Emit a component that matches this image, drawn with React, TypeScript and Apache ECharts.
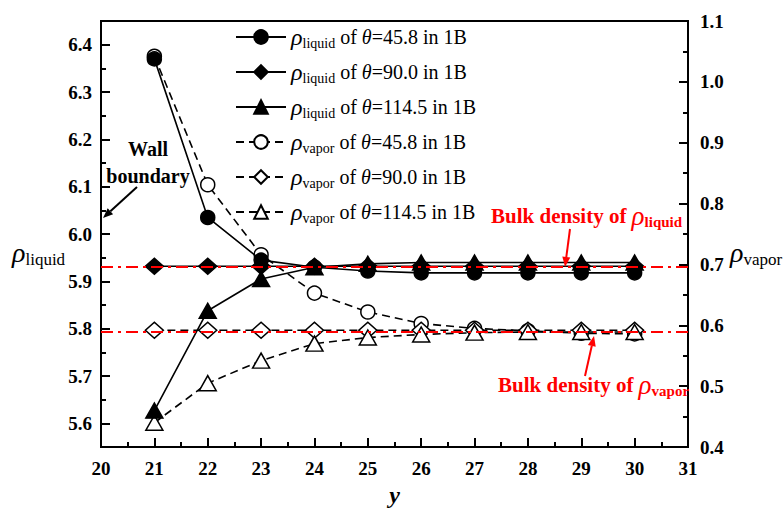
import React, { useEffect, useRef } from "react";
import * as echarts from "echarts";

const yPositions = [21, 22, 23, 24, 25, 26, 27, 28, 29, 30];
const thetaLabels = ["45.8", "90.0", "114.5"];

const liquid458 = [6.37, 6.035, 5.945, 5.93, 5.922, 5.918, 5.918, 5.918, 5.918, 5.918];
const liquid900 = [5.932, 5.932, 5.932, 5.932, 5.932, 5.932, 5.932, 5.932, 5.932, 5.932];
const liquid1145 = [5.627, 5.838, 5.905, 5.93, 5.937, 5.94, 5.94, 5.94, 5.94, 5.94];

const vapor458 = [1.042, 0.831, 0.716, 0.653, 0.622, 0.603, 0.595, 0.591, 0.587, 0.586];
const vapor900 = [0.592, 0.592, 0.592, 0.592, 0.592, 0.592, 0.592, 0.592, 0.592, 0.592];
const vapor1145 = [0.44, 0.505, 0.542, 0.57, 0.58, 0.585, 0.588, 0.589, 0.589, 0.589];

const bulkLiquid = 5.93;
const bulkVapor = 0.589;

const leftMajorTicks = [5.6, 5.7, 5.8, 5.9, 6.0, 6.1, 6.2, 6.3, 6.4];
const leftMinorTicks = [5.65, 5.75, 5.85, 5.95, 6.05, 6.15, 6.25, 6.35];

const FONT = "Liberation Serif";

function arrow(x1: number, y1: number, x2: number, y2: number, color: string) {
  const dx = x2 - x1;
  const dy = y2 - y1;
  const len = Math.sqrt(dx * dx + dy * dy);
  const ux = dx / len;
  const uy = dy / len;
  const nx = -uy;
  const ny = ux;
  const hl = 10;
  const hw = 4;
  const bx = x2 - ux * hl;
  const by = y2 - uy * hl;
  return [
    {
      type: "polyline",
      z: 100,
      shape: { points: [[x1, y1], [bx, by]] },
      style: { stroke: color, lineWidth: 2, fill: null },
    },
    {
      type: "polygon",
      z: 100,
      shape: {
        points: [
          [x2, y2],
          [bx + nx * hw, by + ny * hw],
          [bx - nx * hw, by - ny * hw],
        ],
      },
      style: { fill: color },
    },
  ];
}

const legendRich = {
  r: { fontFamily: FONT, fontStyle: "italic", fontSize: 24, color: "#000" },
  s: { fontFamily: FONT, fontSize: 14, color: "#000", padding: [12, 0, 0, 0] },
  t: { fontFamily: FONT, fontSize: 20, color: "#000" },
  th: { fontFamily: FONT, fontStyle: "italic", fontSize: 20, color: "#000" },
};

const bulkRich = {
  b: { fontFamily: FONT, fontWeight: "bold", fontSize: 21, fill: "#ff0000" },
  r: { fontFamily: FONT, fontStyle: "italic", fontSize: 27, fill: "#ff0000" },
  s: { fontFamily: FONT, fontWeight: "bold", fontSize: 15, fill: "#ff0000", padding: [12, 0, 0, 0] },
};

export default function App() {
  const ref = useRef<HTMLDivElement>(null);

  useEffect(() => {
    document.body.style.margin = "0";
    if (!ref.current) return;
    const chart = echarts.init(ref.current, null, { renderer: "svg" });

    const mk = (arr: number[]) => yPositions.map((x, i) => [x, arr[i]]);
    const names = [
      ...thetaLabels.map((t) => `ρliquid of θ=${t} in 1B`),
      ...thetaLabels.map((t) => `ρvapor of θ=${t} in 1B`),
    ];
    const dataSets = [liquid458, liquid900, liquid1145, vapor458, vapor900, vapor1145];
    const symbols = ["circle", "diamond", "triangle", "circle", "diamond", "triangle"];
    const sizes: any[] = [14, [18, 16], [17, 15], 14, [18, 16], [17, 15]];

    const series: any[] = dataSets.map((arr, i) => {
      const isVapor = i >= 3;
      const s: any = {
        name: names[i],
        type: "line",
        yAxisIndex: isVapor ? 1 : 0,
        data: mk(arr),
        symbol: symbols[i],
        symbolSize: sizes[i],
        showAllSymbol: true,
        lineStyle: {
          color: "#000",
          width: 1.6,
          type: isVapor ? [8, 5] : "solid",
        },
        itemStyle: {
          color: isVapor ? "#fff" : "#000",
          borderColor: "#000",
          borderWidth: 1.5,
        },
        z: isVapor ? 3 : 4,
      };
      return s;
    });

    series[0].markLine = {
      silent: true,
      symbol: ["none", "none"],
      label: { show: false },
      lineStyle: { color: "#ff0000", width: 2, type: [12, 5, 3, 5] },
      data: [{ yAxis: bulkLiquid }],
      z: 5,
    };
    series[3].markLine = {
      silent: true,
      symbol: ["none", "none"],
      label: { show: false },
      lineStyle: { color: "#ff0000", width: 2, type: [12, 5, 3, 5] },
      data: [{ yAxis: bulkVapor }],
      z: 5,
    };

    const labelStyle = {
      fontFamily: FONT,
      fontWeight: "bold",
      fontSize: 19,
      color: "#000",
    };

    const option: any = {
      animation: false,
      backgroundColor: "#fff",
      textStyle: { fontFamily: FONT },
      grid: {
        left: 101,
        right: 96,
        top: 21,
        bottom: 59,
        show: true,
        borderColor: "#000",
        borderWidth: 2,
        backgroundColor: "transparent",
      },
      legend: {
        orient: "vertical",
        left: 230,
        top: 20,
        itemWidth: 50,
        itemHeight: 17,
        itemGap: 10,
        data: names,
        formatter: (name: string) => {
          const idx = names.indexOf(name);
          const kind = idx >= 3 ? "vapor" : "liquid";
          const th = thetaLabels[idx % 3];
          return `{r|ρ}{s|${kind}}{t| of }{th|θ}{t|=${th} in 1B}`;
        },
        textStyle: { rich: legendRich, fontFamily: FONT, fontSize: 20 },
      },
      xAxis: {
        type: "value",
        min: 20,
        max: 31,
        interval: 1,
        name: "y",
        nameLocation: "middle",
        nameGap: 30,
        nameTextStyle: {
          fontFamily: FONT,
          fontStyle: "italic",
          fontWeight: "bold",
          fontSize: 24,
          color: "#000",
        },
        axisLine: { show: true, lineStyle: { color: "#000", width: 2 } },
        axisTick: { show: true, inside: true, length: 9, lineStyle: { color: "#000", width: 2 } },
        minorTick: { show: true, splitNumber: 2, length: 5, lineStyle: { color: "#000", width: 2 } },
        axisLabel: { ...labelStyle, margin: 12 },
        splitLine: { show: false },
      },
      yAxis: [
        {
          type: "value",
          position: "left",
          min: 5.55,
          max: 6.45,
          axisLine: { show: true, lineStyle: { color: "#000", width: 2 } },
          axisTick: {
            show: true,
            inside: true,
            length: 9,
            customValues: leftMajorTicks,
            lineStyle: { color: "#000", width: 2 },
          },
          axisLabel: {
            ...labelStyle,
            margin: 9,
            customValues: leftMajorTicks,
            formatter: (v: number) => v.toFixed(1),
          },
          splitLine: { show: false },
        },
        {
          type: "value",
          position: "right",
          min: 0.4,
          max: 1.1,
          interval: 0.1,
          axisLine: { show: true, lineStyle: { color: "#000", width: 2 } },
          axisTick: { show: true, inside: true, length: 9, lineStyle: { color: "#000", width: 2 } },
          minorTick: { show: true, splitNumber: 2, length: 5, lineStyle: { color: "#000", width: 2 } },
          axisLabel: {
            ...labelStyle,
            margin: 12,
            formatter: (v: number) => v.toFixed(1),
          },
          splitLine: { show: false },
        },
        {
          type: "value",
          position: "left",
          min: 5.55,
          max: 6.45,
          axisLine: { show: false },
          axisTick: {
            show: true,
            inside: true,
            length: 5,
            customValues: leftMinorTicks,
            lineStyle: { color: "#000", width: 2 },
          },
          axisLabel: { show: false },
          splitLine: { show: false },
        },
      ],
      graphic: [
        {
          type: "text",
          z: 100,
          x: 12,
          y: 252,
          style: {
            text: "{r|ρ}{s|liquid}",
            verticalAlign: "middle",
            rich: {
              r: { fontFamily: FONT, fontStyle: "italic", fontSize: 28, fill: "#000" },
              s: { fontFamily: FONT, fontSize: 17, fill: "#000", padding: [14, 0, 0, 0] },
            },
          },
        },
        {
          type: "text",
          z: 100,
          x: 730,
          y: 252,
          style: {
            text: "{r|ρ}{s|vapor}",
            verticalAlign: "middle",
            rich: {
              r: { fontFamily: FONT, fontStyle: "italic", fontSize: 28, fill: "#000" },
              s: { fontFamily: FONT, fontSize: 17, fill: "#000", padding: [14, 0, 0, 0] },
            },
          },
        },
        {
          type: "text",
          z: 100,
          x: 148,
          y: 149,
          style: {
            text: "Wall",
            fontFamily: FONT,
            fontWeight: "bold",
            fontSize: 20,
            fill: "#000",
            align: "center",
            verticalAlign: "middle",
          },
        },
        {
          type: "text",
          z: 100,
          x: 148,
          y: 176,
          style: {
            text: "boundary",
            fontFamily: FONT,
            fontWeight: "bold",
            fontSize: 20,
            fill: "#000",
            align: "center",
            verticalAlign: "middle",
          },
        },
        ...arrow(137, 187, 103, 218, "#000"),
        {
          type: "text",
          z: 100,
          x: 491,
          y: 216,
          style: {
            text: "{b|Bulk density of }{r|ρ}{s|liquid}",
            verticalAlign: "middle",
            rich: bulkRich,
          },
        },
        ...arrow(570, 229, 565, 267, "#ff0000"),
        {
          type: "text",
          z: 100,
          x: 498,
          y: 385,
          style: {
            text: "{b|Bulk density of }{r|ρ}{s|vapor}",
            verticalAlign: "middle",
            rich: bulkRich,
          },
        },
        ...arrow(585, 376, 594, 336, "#ff0000"),
      ],
      series,
    };

    chart.setOption(option);
    return () => chart.dispose();
  }, []);

  return <div ref={ref} style={{ width: 784, height: 512 }} />;
}
